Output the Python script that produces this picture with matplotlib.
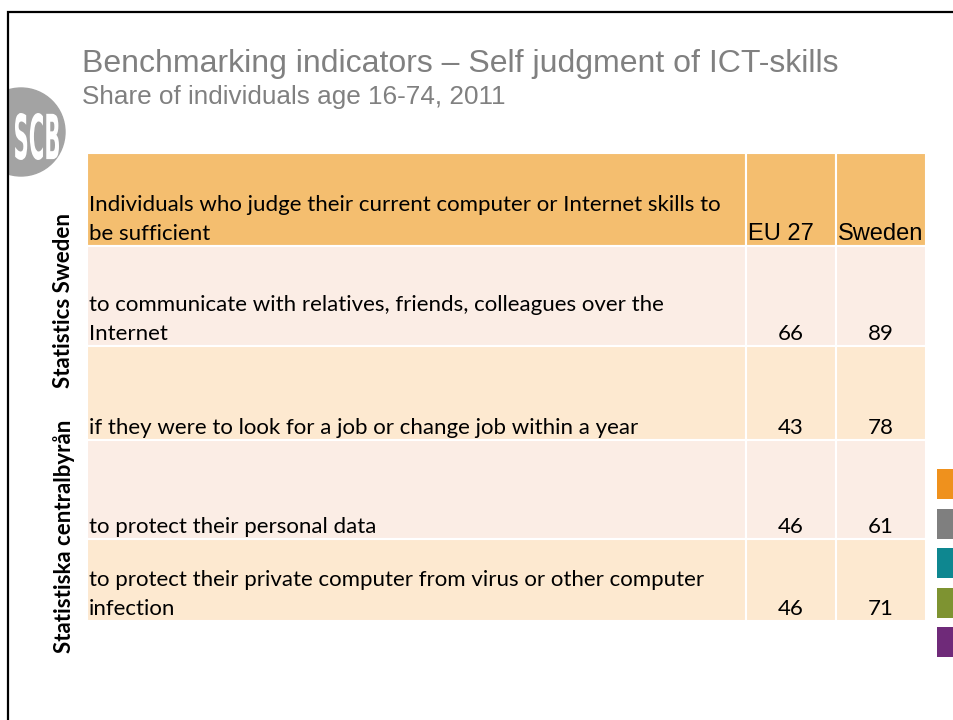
import matplotlib.pyplot as plt
from matplotlib.patches import Rectangle, Circle, PathPatch
from matplotlib.textpath import TextPath
from matplotlib.font_manager import FontProperties
from matplotlib.transforms import Affine2D

# table content
header_text = "Individuals who judge their current computer or Internet skills to\nbe sufficient"
col_labels = ["EU 27", "Sweden"]
row_labels = [
    "to communicate with relatives, friends, colleagues over the\nInternet",
    "if they were to look for a job or change job within a year",
    "to protect their personal data",
    "to protect their private computer from virus or other computer\ninfection",
]
eu27 = [66, 43, 46, 46]
sweden = [89, 78, 61, 71]

title = "Benchmarking indicators \u2013 Self judgment of ICT-skills"
subtitle = "Share of individuals age 16-74, 2011"

# layout in pixels (figure 954x720)
col_edges = [87, 746, 836, 926]
row_edges = [153, 246, 346, 440, 539, 621]
header_col = "#F4BE6F"
row_cols = ["#FBEDE5", "#FDE9D0"]
body_font = "Lato"

fig = plt.figure(figsize=(9.54, 7.2), dpi=100)
ax = fig.add_axes([0, 0, 1, 1])
ax.set_xlim(0, 954)
ax.set_ylim(720, 0)
ax.axis("off")

# slide frame
ax.plot([8, 8, 960], [725, 12, 12], color="black", lw=1.6, solid_joinstyle="miter")

# logo: grey circle with narrow white letters
logo = Circle((21, 132), 44, color="#A3A3A3", zorder=1)
ax.add_patch(logo)
logo.set_clip_path(Rectangle((9, 0), 200, 720, transform=ax.transData))
tp = TextPath((0, 0), "SCB", size=10, prop=FontProperties(family="DejaVu Sans", weight="bold"))
bb = tp.get_extents()
sx = 44 / bb.width
sy = 47 / bb.height
tr = Affine2D().translate(-bb.x0, -bb.y0).scale(sx, -sy).translate(15, 160)
ax.add_patch(PathPatch(tr.transform_path(tp), facecolor="white", edgecolor="none", zorder=2))

# titles
ax.text(82, 72, title, fontsize=23, color="#808080", family="Liberation Sans", va="baseline")
ax.text(82, 104, subtitle, fontsize=18.8, color="#808080", family="Liberation Sans", va="baseline")

# header row
for i in range(3):
    x0, x1 = col_edges[i], col_edges[i + 1]
    ax.add_patch(Rectangle((x0, row_edges[0]), x1 - x0, row_edges[1] - row_edges[0],
                           facecolor=header_col, edgecolor="white", lw=1.5))
ax.text(89, 244, header_text, fontsize=16, family=body_font, va="bottom", ha="left",
        linespacing=1.55)
for i, lab in enumerate(col_labels):
    ax.text(col_edges[i + 1] + 2, 245, lab, fontsize=17, family="Liberation Sans",
            va="bottom", ha="left")

# body rows
for r in range(len(row_labels)):
    y0, y1 = row_edges[r + 1], row_edges[r + 2]
    for i in range(3):
        x0, x1 = col_edges[i], col_edges[i + 1]
        ax.add_patch(Rectangle((x0, y0), x1 - x0, y1 - y0,
                               facecolor=row_cols[r % 2], edgecolor="white", lw=1.5))
    ax.text(89, y1 - 2, row_labels[r], fontsize=16, family=body_font, va="bottom",
            ha="left", linespacing=1.55)
    for i, v in enumerate([eu27[r], sweden[r]]):
        ax.text((col_edges[i + 1] + col_edges[i + 2]) / 2, y1 - 2, str(v), fontsize=16,
                family=body_font, va="bottom", ha="center")

# vertical side text
ax.text(64, 301, "Statistics Sweden", rotation=90, fontsize=16, fontweight="bold",
        family=body_font, ha="center", va="center")
ax.text(64, 536, "Statistiska centralbyr\u00e5n", rotation=90, fontsize=16, fontweight="bold",
        family=body_font, ha="center", va="center")

# colour squares on the right
square_cols = ["#EF911D", "#7F7F7F", "#0E8790", "#7E9331", "#6F2A79"]
for k, c in enumerate(square_cols):
    ax.add_patch(Rectangle((937, 469 + k * 39.5), 30, 30, facecolor=c, edgecolor="none"))

fig.savefig("out.png", dpi=100)
